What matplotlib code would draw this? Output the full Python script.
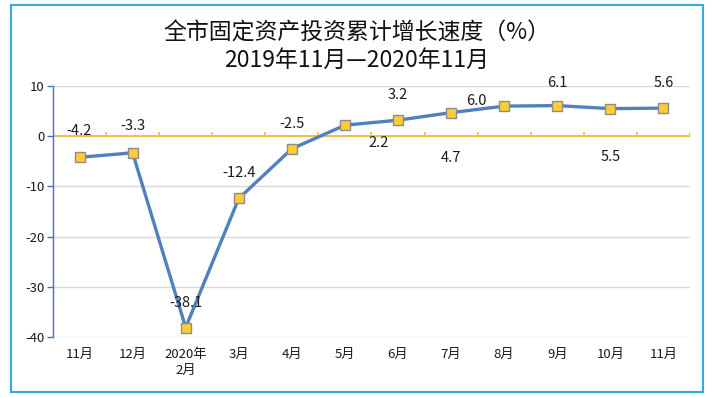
import matplotlib
matplotlib.use("Agg")
import matplotlib.pyplot as plt
from matplotlib.patches import Rectangle

plt.rcParams["font.family"] = ["Noto Sans CJK SC", "DejaVu Sans"]
plt.rcParams["axes.unicode_minus"] = False

months = ["11月", "12月", "2020年\n2月", "3月", "4月", "5月", "6月", "7月", "8月", "9月", "10月", "11月"]
growth = [-4.2, -3.3, -38.1, -12.4, -2.5, 2.2, 3.2, 4.7, 6.0, 6.1, 5.5, 5.6]
# label offsets (points) relative to each marker, as placed in the original
label_dx = [0, 0, 0, 0, 0, 24, 0, 0, -20, 0, 0, 0]
label_dy = [19, 19, 18, 18, 18, -13, 18, -33, 4, 16, -35, 18]

title_1 = "全市固定资产投资累计增长速度（%）"
title_2 = "2019年11月—2020年11月"

fig = plt.figure(figsize=(7.13, 3.97), dpi=100)
ax = fig.add_axes([0.0743, 0.151, 0.8934, 0.6323])

x = list(range(len(months)))
ax.plot(x, growth, color="#4f81bd", linewidth=2.4, marker="s", markersize=7.5,
        markerfacecolor="#ffcc33", markeredgecolor="#8c8c8c", markeredgewidth=1.0, zorder=4)

for i, v in enumerate(growth):
    ax.annotate(f"{v:.1f}", (i, v), xytext=(label_dx[i], label_dy[i]), textcoords="offset points",
                ha="center", va="center", fontsize=10.5, color="#1a1a1a", zorder=5)

ax.set_xlim(-0.5, len(months) - 0.5)
ax.set_ylim(-40, 10)
ax.set_yticks([10, 0, -10, -20, -30, -40])
ax.yaxis.grid(True, color="#d9d9d9", linewidth=1.0)
ax.set_axisbelow(True)

# category axis crossing at zero, gold with upward tick marks
ax.axhline(0, color="#f0c040", linewidth=1.4, zorder=2)
ax.vlines([b - 0.5 for b in range(len(months) + 1)], 0, 0.9, color="#f0c040", linewidth=1.2, zorder=2)

ax.set_xticks(x)
ax.set_xticklabels(months, fontsize=9.5, linespacing=1.25, va="top", color="#1a1a1a")
ax.tick_params(axis="x", length=0, pad=8)
ax.tick_params(axis="y", length=4, width=1, color="#4472c4", labelsize=9.5, labelcolor="#1a1a1a", pad=2)

for side in ["top", "right", "bottom"]:
    ax.spines[side].set_visible(False)
ax.spines["left"].set_color("#4472c4")
ax.spines["left"].set_linewidth(1.0)

fig.text(0.5, 0.917, title_1, ha="center", va="center", fontsize=16.5, color="#111111")
fig.text(0.5, 0.849, title_2, ha="center", va="center", fontsize=16.5, color="#111111")

fig.patches.append(Rectangle((0.0155, 0.012), 0.970, 0.976, transform=fig.transFigure,
                             fill=False, edgecolor="#39a9dc", linewidth=1.5))

fig.savefig("out.png", dpi=100, facecolor="white")
